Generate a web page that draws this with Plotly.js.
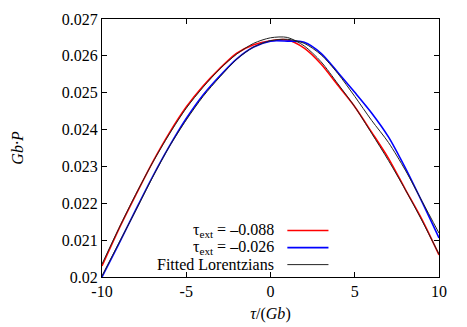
<!DOCTYPE html>
<html>
<head>
<meta charset="utf-8">
<script src="https://cdn.plot.ly/plotly-3.0.1.min.js"></script>
<style>
  body { margin: 0; background: #fff; }
  #chart { width: 467px; height: 327px; }
</style>
</head>
<body>
<div id="chart"></div>
<script>
const tau = [-10, -9, -8, -7, -6, -5, -4, -3, -2, -1, 0, 1, 2, 3, 4, 5, 6, 7, 8, 9, 10];

// tau_ext = -0.088
const pRed = [0.0203, 0.0213, 0.02222, 0.02311, 0.02391, 0.02461, 0.02518, 0.02566, 0.02607, 0.0263, 0.02641,
  0.02643, 0.02621, 0.02578, 0.0252, 0.02462, 0.02393, 0.02322, 0.02238, 0.02155, 0.0206];
// tau_ext = -0.026
const pBlue = [0.02, 0.0209, 0.02182, 0.02272, 0.02355, 0.0243, 0.02494, 0.02546, 0.02592, 0.02624, 0.0264,
  0.0264, 0.02637, 0.02607, 0.02555, 0.02501, 0.02445, 0.0238, 0.02296, 0.02203, 0.02106];
// fitted lorentzians
const fitRed = [0.02035, 0.02132, 0.02224, 0.0231, 0.02388, 0.02458, 0.02515, 0.02565, 0.02605, 0.02634, 0.02649,
  0.0265, 0.02627, 0.02584, 0.02524, 0.02462, 0.0239, 0.02316, 0.02237, 0.02152, 0.02062];
const fitBlue = [0.02003, 0.02092, 0.0218, 0.0227, 0.02354, 0.02426, 0.0249, 0.02543, 0.02591, 0.02624, 0.02641,
  0.02645, 0.02634, 0.02603, 0.02552, 0.0249, 0.02425, 0.02365, 0.0229, 0.02205, 0.02119];

const legendNames = ['τ<sub>ext</sub> = –0.088', 'τ<sub>ext</sub> = –0.026', 'Fitted Lorentzians'];
const legendColors = ['#ff0000', '#0000ff', '#222222'];

const xTicks = [-10, -5, 0, 5, 10];
const yTicks = [0.02, 0.021, 0.022, 0.023, 0.024, 0.025, 0.026, 0.027];
const yTickText = ['0.02', '0.021', '0.022', '0.023', '0.024', '0.025', '0.026', '0.027'];

const font = { family: 'Liberation Serif', size: 16, color: '#000' };
const keyFont = { family: 'Liberation Serif', size: 16, color: '#000' };

function line(y, color, width) {
  return {
    x: tau, y: y, type: 'scatter', mode: 'lines',
    line: { color: color, width: width, shape: 'spline', smoothing: 0.8 },
    hoverinfo: 'skip', showlegend: false
  };
}

const traces = [
  line(pRed, legendColors[0], 1.6),
  line(pBlue, legendColors[1], 1.6),
  line(fitRed, legendColors[2], 1),
  line(fitBlue, legendColors[2], 1)
];

// gnuplot style key: text on the left, sample line on the right
const keyTop = 0.18, keyStep = 0.066;
const annotations = legendNames.map((name, i) => ({
  xref: 'paper', yref: 'paper', x: 0.515, y: keyTop - i * keyStep,
  xanchor: 'right', yanchor: 'middle', text: name, showarrow: false,
  font: keyFont
}));
const shapes = legendColors.map((c, i) => ({
  type: 'line', xref: 'paper', yref: 'paper',
  x0: 0.55, x1: 0.672, y0: keyTop - i * keyStep, y1: keyTop - i * keyStep,
  line: { color: c, width: i < 2 ? 1.6 : 1 }
}));

const layout = {
  width: 467, height: 327,
  margin: { l: 102, r: 28, t: 19, b: 50 },
  paper_bgcolor: '#fff', plot_bgcolor: '#fff',
  font: font,
  showlegend: false,
  xaxis: {
    range: [-10, 10], tickvals: xTicks, ticktext: xTicks.map(String),
    ticks: 'inside', ticklen: 5, tickcolor: '#000', mirror: 'ticks',
    showline: true, linecolor: '#000', linewidth: 1,
    showgrid: false, zeroline: false,
    title: { text: '<i>τ</i>/(<i>Gb</i>)', font: font, standoff: 8 }
  },
  yaxis: {
    range: [0.02, 0.027], tickvals: yTicks, ticktext: yTickText,
    ticks: 'inside', ticklen: 5, tickcolor: '#000', mirror: 'ticks',
    showline: true, linecolor: '#000', linewidth: 1,
    showgrid: false, zeroline: false,
    title: { text: '<i>Gb·P</i>', font: font, standoff: 34 }
  },
  annotations: annotations,
  shapes: shapes
};

Plotly.newPlot('chart', traces, layout, { displayModeBar: false, staticPlot: true });
</script>
</body>
</html>
